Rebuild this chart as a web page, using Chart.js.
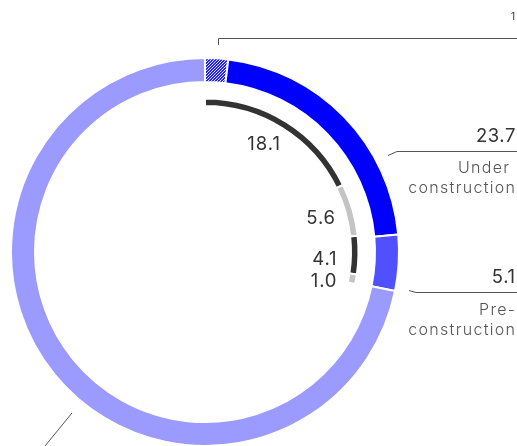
<!DOCTYPE html>
<html>
<head>
<meta charset="utf-8">
<script src="https://cdn.jsdelivr.net/npm/chart.js@4/dist/chart.umd.min.js"></script>
<style>
  html, body { margin: 0; padding: 0; background: #fff; }
  #wrap { position: relative; width: 517px; height: 446px; overflow: hidden; }
  canvas { position: absolute; left: 0; top: 0; }
  .lbl { position: absolute; white-space: pre; font-family: Inter, "Noto Sans", sans-serif; line-height: 1; }
</style>
</head>
<body>
<div id="wrap"><canvas id="c" width="517" height="446"></canvas></div>
<script>
// ---- data ----
const categories = ['Other (hatched)', 'Under construction', 'Pre-construction', 'Remaining'];
const outerValues = [2.1, 23.7, 5.1, 78.6];
const innerCategories = ['Under construction A', 'Under construction B', 'Pre-construction A', 'Pre-construction B'];
const innerValues = [18.1, 5.6, 4.1, 1.0];
const footnote = '1';
const outerLabels = [
  { value: '23.7', name: ['Under', 'construction'] },
  { value: '5.1', name: ['Pre-', 'construction'] }
];

// ---- hatch pattern ----
function makeHatch() {
  const p = document.createElement('canvas');
  p.width = 3; p.height = 3;
  const g = p.getContext('2d');
  const img = g.createImageData(3, 3);
  for (let y = 0; y < 3; y++) for (let x = 0; x < 3; x++) {
    const i = (y * 3 + x) * 4;
    const white = (x + y) % 3 === 0;
    img.data[i] = white ? 235 : 30;
    img.data[i + 1] = white ? 235 : 30;
    img.data[i + 2] = 255;
    img.data[i + 3] = 255;
  }
  g.putImageData(img, 0, 0);
  return document.getElementById('c').getContext('2d').createPattern(p, 'repeat');
}

const leaderPlugin = {
  id: 'leaders',
  afterDraw(chart) {
    const ctx = chart.ctx;
    ctx.save();
    ctx.strokeStyle = '#555';
    ctx.lineWidth = 1;
    ctx.beginPath();
    ctx.moveTo(218.5, 45); ctx.lineTo(218.5, 38.5); ctx.lineTo(517, 38.5);
    ctx.moveTo(388, 155.5); ctx.lineTo(397, 151.5); ctx.lineTo(517, 151.5);
    ctx.moveTo(409, 290.5); ctx.lineTo(416, 292.5); ctx.lineTo(517, 292.5);
    ctx.moveTo(72, 413); ctx.lineTo(45, 446);
    ctx.stroke();
    ctx.restore();
  }
};

new Chart(document.getElementById('c'), {
  type: 'doughnut',
  data: {
    labels: categories,
    datasets: [
      {
        data: outerValues,
        backgroundColor: [makeHatch(), '#0000ff', '#5050ff', '#9a9aff'],
        borderColor: '#ffffff',
        borderWidth: 2,
        weight: 24
      },
      { data: [], weight: 16.5 },
      {
        data: innerValues,
        backgroundColor: ['#333333', '#c4c4c4', '#333333', '#c4c4c4'],
        borderColor: '#ffffff',
        borderWidth: 2,
        weight: 7.5,
        circumference: 102
      }
    ]
  },
  options: {
    responsive: false,
    animation: false,
    events: [],
    radius: 194,
    cutout: '75.26%',
    layout: { padding: { left: 12, top: 59, right: 119, bottom: 1 } },
    plugins: { legend: { display: false }, tooltip: { enabled: false } }
  },
  plugins: [leaderPlugin]
});

// ---- text labels ----
const wrap = document.getElementById('wrap');
function place(text, x, baseline, size, color, align, ls, weight) {
  const d = document.createElement('div');
  d.className = 'lbl';
  d.textContent = text;
  d.style.fontSize = size + 'px';
  d.style.color = color;
  d.style.letterSpacing = ls + 'px';
  d.style.fontWeight = weight;
  d.style.top = (baseline - 0.8635 * size) + 'px';
  if (align === 'right') d.style.right = (517 - x - ls) + 'px';
  else d.style.left = x + 'px';
  wrap.appendChild(d);
}
const numC = '#333333', txtC = '#555555';
place(footnote, 515, 20, 10, numC, 'right', 0, 400);
place(outerLabels[0].value, 515.5, 141.7, 18.5, numC, 'right', 0.6, 400);
place(outerLabels[0].name[0], 509, 172.7, 16, txtC, 'right', 1.3, 300);
place(outerLabels[0].name[1], 515, 193.3, 16, txtC, 'right', 1.3, 300);
place(outerLabels[1].value, 515, 283.3, 18.5, numC, 'right', 0.6, 400);
place(outerLabels[1].name[0], 515, 315, 16, txtC, 'right', 1.3, 300);
place(outerLabels[1].name[1], 515, 335, 16, txtC, 'right', 1.3, 300);
place(String(innerValues[0]), 280, 150, 18.5, numC, 'right', 1.0, 400);
place(String(innerValues[1]), 335, 224, 18.5, numC, 'right', 0.8, 400);
place(String(innerValues[2]), 336.5, 265, 18.5, numC, 'right', 0.8, 400);
place(innerValues[3].toFixed(1), 336.5, 286.7, 18.5, numC, 'right', 0.8, 400);
</script>
</body>
</html>
